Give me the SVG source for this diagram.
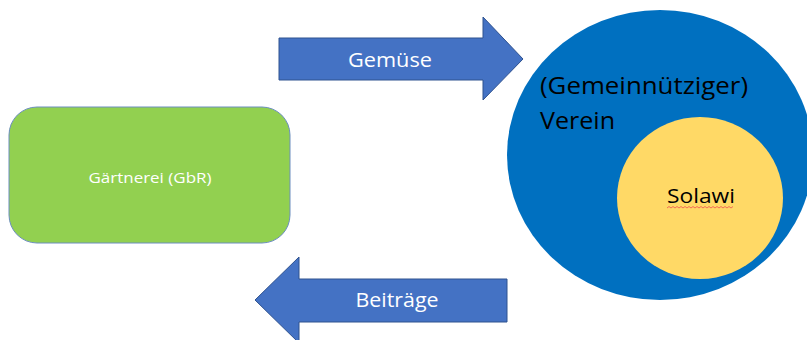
<svg xmlns="http://www.w3.org/2000/svg" width="807" height="340" viewBox="0 0 807 340">
<style>
text{font-family:"Open Sans","Liberation Sans",sans-serif}
.arrow{fill:#4472c4;stroke:#2f528f;stroke-width:1}
.w{fill:#fff}
.k{fill:#000}
</style>
<rect width="807" height="340" fill="#fff"/>
<g id="connectors">
<g id="gemuese">
<polygon class="arrow" points="279,38 483,38 483,17 523,59 483,100 483,80 279,80"/>
<text class="w" x="390" y="67" font-size="20" text-anchor="middle" textLength="84" lengthAdjust="spacingAndGlyphs">Gemüse</text>
</g>
<g id="beitraege">
<polygon class="arrow" points="507,279 299,279 299,257 255,300 299,343 299,322 507,322"/>
<text class="w" x="397" y="307" font-size="20" text-anchor="middle" textLength="83" lengthAdjust="spacingAndGlyphs">Beiträge</text>
</g>
</g>
<g id="gaertnerei">
<rect x="9" y="107" width="281" height="136" rx="28" fill="#92d050" stroke="#6c8ebf" stroke-width="1"/>
<text class="w" x="150" y="183" font-size="14" text-anchor="middle" textLength="123" lengthAdjust="spacingAndGlyphs">Gärtnerei (GbR)</text>
</g>
<g id="verein">
<ellipse cx="660" cy="155" rx="153" ry="145" fill="#0070c0"/>
<text class="k" x="540" y="94" font-size="24" textLength="208" lengthAdjust="spacingAndGlyphs">(Gemeinnütziger)</text>
<text class="k" x="540" y="129" font-size="24" textLength="75" lengthAdjust="spacingAndGlyphs">Verein</text>
</g>
<g id="solawi">
<ellipse cx="700" cy="198" rx="83" ry="81" fill="#ffd966"/>
<text class="k" x="667" y="203" font-size="20" textLength="68" lengthAdjust="spacingAndGlyphs">Solawi</text>
<path d="M667,208 l2,-1.5 l2,1.5 l2,-1.5 l2,1.5 l2,-1.5 l2,1.5 l2,-1.5 l2,1.5 l2,-1.5 l2,1.5 l2,-1.5 l2,1.5 l2,-1.5 l2,1.5 l2,-1.5 l2,1.5 l2,-1.5 l2,1.5 l2,-1.5 l2,1.5 l2,-1.5 l2,1.5 l2,-1.5 l2,1.5 l2,-1.5 l2,1.5 l2,-1.5 l2,1.5 l2,-1.5 l2,1.5 l2,-1.5 l2,1.5 l2,-1.5" fill="none" stroke="#f05050" stroke-width="0.8"/>
</g>
</svg>
